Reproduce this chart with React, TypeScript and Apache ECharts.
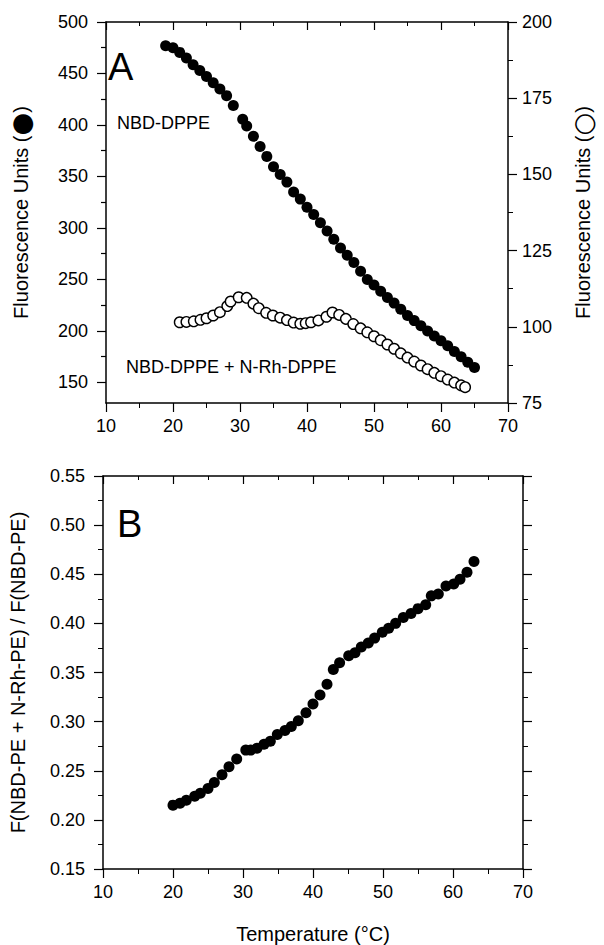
import React, { useEffect, useRef } from "react";
import * as echarts from "echarts";

// Panel A — NBD-DPPE (filled, left axis)
const tempFilled = [18.9, 20, 21, 22, 23, 24, 25, 26, 27, 28, 29, 30.4, 31, 32, 33, 34, 35, 36, 37, 38, 39, 40, 41, 42, 43, 44, 45, 46, 47, 48, 49, 50, 51, 52, 53, 54, 55, 56, 57, 58, 59, 60, 61, 62, 63, 64, 65];
const fluorFilled = [477, 475, 470.5, 465, 458.5, 453, 447, 441, 435, 428.5, 419, 405.5, 399, 389, 379, 369.5, 359.5, 352, 344.5, 335, 328, 320, 313, 305, 297, 289, 280.5, 273.5, 266.5, 258, 250, 244.5, 238.5, 232.5, 227, 221, 215, 210, 205, 200, 195, 190.5, 185.5, 180, 175, 169.5, 164.5];

// Panel A — NBD-DPPE + N-Rh-DPPE (open, right axis)
const tempOpen = [21, 22, 23.1, 24.1, 25, 26, 27, 28.1, 28.6, 29.8, 31, 32, 32.8, 33.9, 34.9, 36, 37, 38, 39, 39.8, 40.6, 41.7, 42.9, 43.8, 44.8, 45.8, 46.9, 48, 49, 50, 51, 52, 53, 54, 55, 56, 57, 58, 59, 60, 61, 62, 63, 63.6];
const fluorOpen = [101.5, 101.6, 101.8, 102.3, 102.8, 103.7, 104.8, 106.8, 108.3, 109.7, 109.5, 107.6, 106.1, 104.6, 103.7, 103.0, 102.2, 101.4, 101.0, 101.2, 101.5, 102.1, 103.3, 104.7, 103.9, 102.6, 100.9, 99.5, 98.2, 96.9, 95.6, 94.2, 92.8, 91.3, 89.9, 88.6, 87.3, 86.1, 84.9, 83.8, 82.7, 81.7, 80.8, 80.2];

// Panel B — ratio
const tempB = [20.0, 21.0, 21.9, 23.1, 23.9, 25.0, 25.9, 27.0, 28.0, 29.1, 30.4, 31.1, 32.0, 33.0, 33.9, 34.9, 36.0, 36.9, 37.9, 39.0, 40.0, 41.0, 42.0, 42.9, 43.8, 45.1, 46.0, 46.9, 47.9, 48.8, 49.9, 50.8, 51.8, 52.9, 54.0, 55.0, 56.1, 56.9, 57.9, 59.0, 60.1, 61.0, 62.0, 63.0];
const ratioB = [0.215, 0.217, 0.220, 0.224, 0.227, 0.232, 0.238, 0.246, 0.254, 0.262, 0.271, 0.271, 0.273, 0.277, 0.280, 0.287, 0.291, 0.295, 0.301, 0.309, 0.318, 0.327, 0.338, 0.353, 0.360, 0.367, 0.370, 0.376, 0.380, 0.385, 0.391, 0.395, 0.400, 0.406, 0.410, 0.415, 0.419, 0.428, 0.430, 0.438, 0.440, 0.445, 0.452, 0.463];

// Tick values
const leftALabels = [150, 200, 250, 300, 350, 400, 450, 500];
const leftAMinor = [175, 225, 275, 325, 375, 425, 475];

const FONT = "'Liberation Sans', Arial, Helvetica, sans-serif";
const BLACK = "#000";

export default function App() {
  const ref = useRef<HTMLDivElement>(null);
  useEffect(() => {
    if (!ref.current) return;
    const chart = echarts.init(ref.current, undefined, { renderer: "svg" });
    const line = { show: true, lineStyle: { color: BLACK, width: 1.5 } };
    const tick = (inside: boolean, len = 9) => ({ show: true, inside, length: len, lineStyle: { color: BLACK, width: 1.2 } });
    const minor = (len = 5) => ({ show: true, splitNumber: 2, length: len, lineStyle: { color: BLACK, width: 1 } });
    const lbl = { color: BLACK, fontSize: 18, fontFamily: FONT, margin: 18 };
    const noLbl = { show: false };
    const noSplit = { show: false };
    const nameStyle = {
      color: BLACK, fontSize: 20, fontFamily: FONT,
      rich: { c: { fontSize: 26, fontFamily: "'DejaVu Sans', sans-serif", color: BLACK } },
    };

    const option: any = {
      animation: false,
      backgroundColor: "#fff",
      grid: [
        { left: 95, top: 22, width: 426, height: 381 },
        { left: 97, top: 476, width: 426, height: 396 },
      ],
      xAxis: [
        { type: "value", gridIndex: 0, position: "bottom", min: 10, max: 70, interval: 10, axisLine: line, axisTick: tick(false), minorTick: minor(), axisLabel: { ...lbl, margin: 14 }, splitLine: noSplit },
        { type: "value", gridIndex: 0, position: "top", min: 10, max: 70, interval: 10, axisLine: line, axisTick: tick(true, 8), minorTick: minor(4), axisLabel: noLbl, splitLine: noSplit },
        { type: "value", gridIndex: 1, position: "bottom", min: 10, max: 70, interval: 10, axisLine: line, axisTick: tick(false), minorTick: minor(), axisLabel: { ...lbl, margin: 14 }, splitLine: noSplit, name: "Temperature (°C)", nameLocation: "middle", nameGap: 55, nameTextStyle: nameStyle },
        { type: "value", gridIndex: 1, position: "top", min: 10, max: 70, interval: 10, axisLine: line, axisTick: tick(true, 8), minorTick: minor(4), axisLabel: noLbl, splitLine: noSplit },
      ],
      yAxis: [
        { type: "value", gridIndex: 0, position: "left", min: 130, max: 500, axisLine: line, axisTick: { ...tick(false), customValues: leftALabels }, axisLabel: { ...lbl, customValues: leftALabels }, splitLine: noSplit, name: "Fluorescence Units ({c|●})", nameLocation: "middle", nameGap: 72, nameTextStyle: nameStyle },
        { type: "value", gridIndex: 0, position: "right", min: 75, max: 200, interval: 25, axisLine: line, axisTick: tick(false), minorTick: minor(), axisLabel: { ...lbl, margin: 14 }, splitLine: noSplit, name: "Fluorescence Units ({c|○})", nameLocation: "middle", nameGap: 62, nameTextStyle: nameStyle },
        { type: "value", gridIndex: 0, position: "left", min: 130, max: 500, axisLine: { show: false }, axisTick: { ...tick(false, 5), customValues: leftAMinor }, axisLabel: noLbl, splitLine: noSplit },
        { type: "value", gridIndex: 1, position: "left", min: 0.15, max: 0.55, interval: 0.05, axisLine: line, axisTick: tick(false), minorTick: minor(), axisLabel: { ...lbl, formatter: (v: number) => v.toFixed(2) }, splitLine: noSplit, name: "F(NBD-PE + N-Rh-PE) / F(NBD-PE)", nameLocation: "middle", nameGap: 75, nameTextStyle: nameStyle },
        { type: "value", gridIndex: 1, position: "right", min: 0.15, max: 0.55, interval: 0.05, axisLine: line, axisTick: tick(false), minorTick: minor(), axisLabel: noLbl, splitLine: noSplit },
      ],
      series: [
        {
          type: "scatter", name: "NBD-DPPE", xAxisIndex: 0, yAxisIndex: 0,
          data: tempFilled.map((t, i) => [t, fluorFilled[i]]),
          symbol: "circle", symbolSize: 11, itemStyle: { color: BLACK, opacity: 1 },
        },
        {
          type: "scatter", name: "NBD-DPPE + N-Rh-DPPE", xAxisIndex: 0, yAxisIndex: 1,
          data: tempOpen.map((t, i) => [t, fluorOpen[i]]),
          symbol: "circle", symbolSize: 10.5, itemStyle: { color: "#fff", borderColor: BLACK, borderWidth: 1.4, opacity: 1 },
        },
        {
          type: "scatter", name: "ratio", xAxisIndex: 2, yAxisIndex: 3,
          data: tempB.map((t, i) => [t, ratioB[i]]),
          symbol: "circle", symbolSize: 11, itemStyle: { color: BLACK, opacity: 1 },
        },
      ],
      graphic: [
        { type: "text", left: 108, top: 48, style: { text: "A", font: `38px ${FONT}`, fill: BLACK } },
        { type: "text", left: 117, top: 114, style: { text: "NBD-DPPE", font: `18px ${FONT}`, fill: BLACK } },
        { type: "text", left: 126, top: 358, style: { text: "NBD-DPPE + N-Rh-DPPE", font: `18px ${FONT}`, fill: BLACK } },
        { type: "text", left: 117, top: 505, style: { text: "B", font: `38px ${FONT}`, fill: BLACK } },
      ],
    };
    chart.setOption(option);
    return () => chart.dispose();
  }, []);
  return <div ref={ref} style={{ position: "fixed", left: 0, top: 0, width: 604, height: 945, background: "#fff" }} />;
}
